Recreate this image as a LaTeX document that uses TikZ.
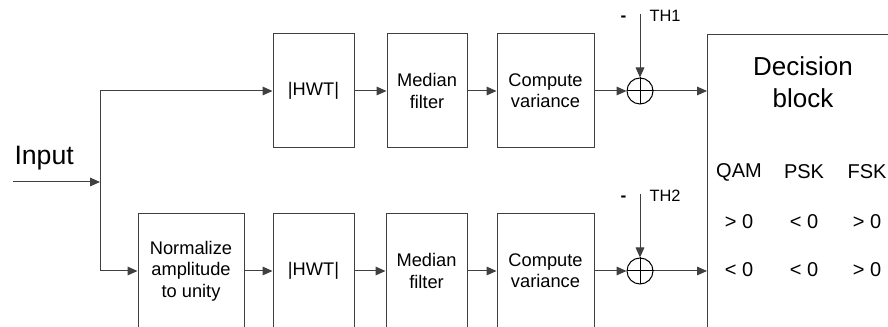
\documentclass[tikz,border=0pt]{standalone}
\usepackage{fontspec}
\setmainfont{Liberation Sans}
\usetikzlibrary{arrows.meta}
\begin{document}
\begin{tikzpicture}[x=0.75pt,y=-0.75pt,line width=0.75pt,
blk/.style={draw=black!75,minimum height=85.5pt,inner sep=0pt,align=center,font=\fontsize{13.7}{16}\selectfont},
sumnode/.style={draw,circle,minimum size=19.5pt,inner sep=0pt},
lbl/.style={inner sep=0pt,font=\fontsize{15}{18}\selectfont},
th/.style={inner sep=0pt,anchor=west,font=\fontsize{12.3}{14}\selectfont},
>={Triangle[length=7.5pt,width=6.5pt]}]
\useasboundingbox (0,0) rectangle (888,327);
\clip (0,0) rectangle (888,327);
\node[inner sep=0pt,anchor=west,font=\fontsize{20}{24}\selectfont] (inp) at (14,158) {Input};
\coordinate (in0) at (13,182);
\coordinate (split) at (100,182);
\coordinate (top) at (100,91);
\coordinate (bot) at (100,271);
\node[blk,minimum width=60.75pt] (hwt1) at (313.5,91) {|HWT|};
\node[blk,minimum width=60pt] (med1) at (427,91) {Median\\filter};
\node[blk,minimum width=72.75pt] (var1) at (545.5,91) {Compute\\variance};
\node[sumnode] (sum1) at (640,91) {};
\node[blk,minimum width=79.5pt] (norm) at (191,271) {Normalize\\amplitude\\to unity};
\node[blk,minimum width=60.75pt] (hwt2) at (313.5,271) {|HWT|};
\node[blk,minimum width=60.75pt] (med2) at (426.5,271) {Median\\filter};
\node[blk,minimum width=72.75pt] (var2) at (545.5,271) {Compute\\variance};
\node[sumnode] (sum2) at (640,271) {};
\node[draw=black!75,anchor=north west,minimum width=200pt,minimum height=300pt] (dec) at (707,34) {};
\node[inner sep=0pt,align=center,font=\fontsize{19.5}{24}\selectfont] (dtxt) at (803,82) {Decision\\block};
\node[lbl] (qam) at (739,172) {QAM};
\node[lbl] (psk) at (804,172) {PSK};
\node[lbl] (fsk) at (867,172) {FSK};
\node[lbl] (r1a) at (739,222) {> 0};
\node[lbl] (r1b) at (804,222) {< 0};
\node[lbl] (r1c) at (867,222) {> 0};
\node[lbl] (r2a) at (739,270) {< 0};
\node[lbl] (r2b) at (804,270) {< 0};
\node[lbl] (r2c) at (867,270) {> 0};
\coordinate (th1) at (640,14);
\coordinate (th2) at (640,194);
\node[th] (th1l) at (649,16) {TH1};
\node[th] (th2l) at (649,196) {TH2};
\node[th,font=\fontsize{13}{14}\selectfont\bfseries] (m1) at (620,19) {-};
\node[th,font=\fontsize{13}{14}\selectfont\bfseries] (m2) at (620,199) {-};
\draw[black!75,->] (in0) -- (split);
\draw[black!75] (top) -- (bot);
\draw[black!75,->] (top) -- (hwt1);
\draw[black!75,->] (hwt1) -- (med1);
\draw[black!75,->] (med1) -- (var1);
\draw[black!75,->] (var1) -- (sum1);
\draw[black!75,->] (sum1) -- (sum1 -| dec.west);
\draw[black!75,->] (th1) -- (sum1);
\draw (sum1.north) -- (sum1.south) (sum1.west) -- (sum1.east);
\draw[black!75,->] (bot) -- (norm);
\draw[black!75,->] (norm) -- (hwt2);
\draw[black!75,->] (hwt2) -- (med2);
\draw[black!75,->] (med2) -- (var2);
\draw[black!75,->] (var2) -- (sum2);
\draw[black!75,->] (sum2) -- (sum2 -| dec.west);
\draw[black!75,->] (th2) -- (sum2);
\draw (sum2.north) -- (sum2.south) (sum2.west) -- (sum2.east);
\end{tikzpicture}
\end{document}
